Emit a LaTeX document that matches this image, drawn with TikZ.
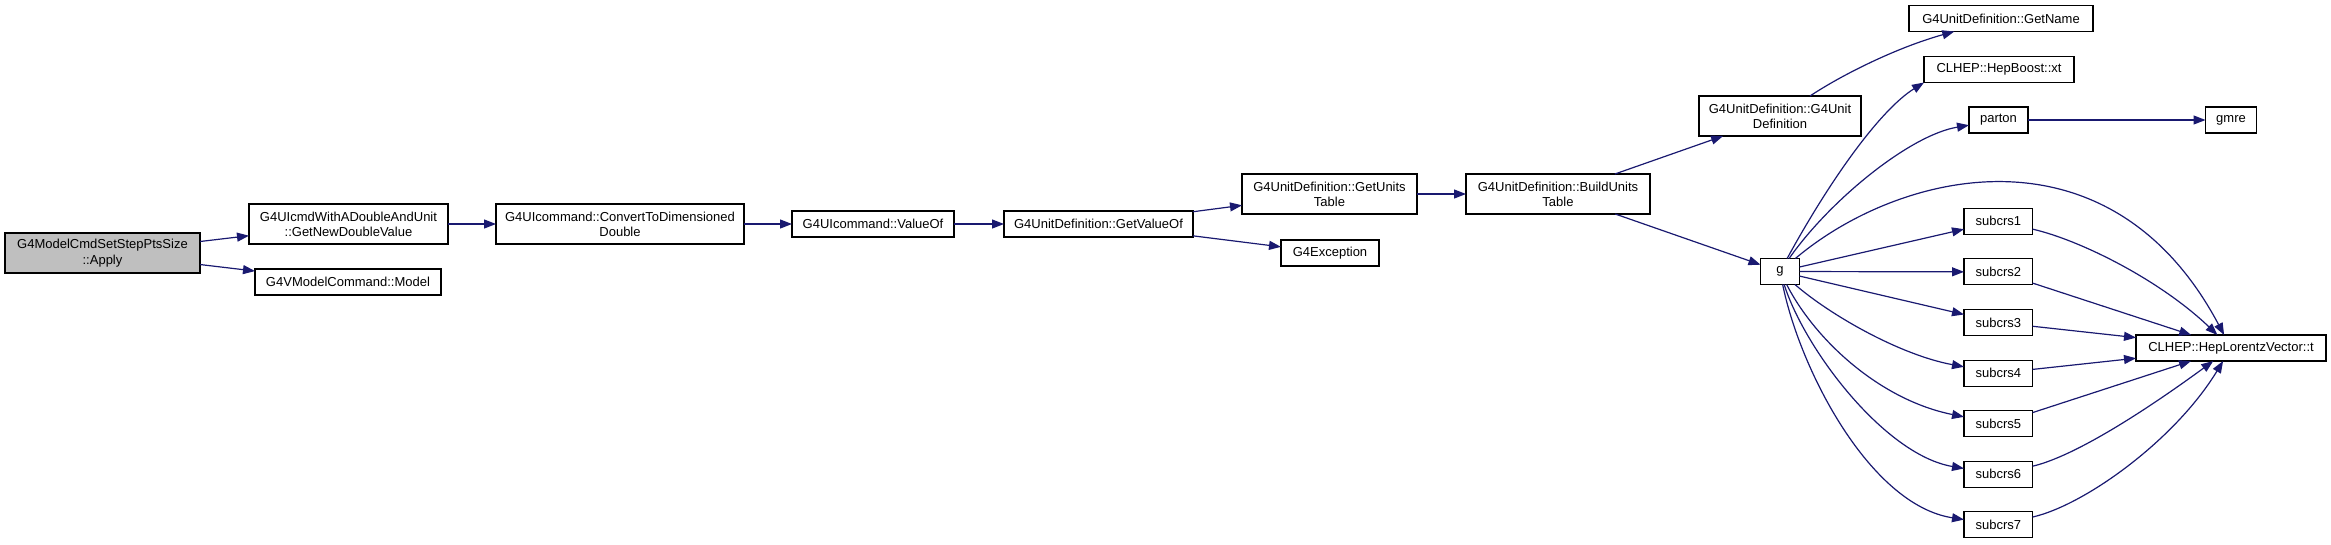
\documentclass[tikz,border=0pt]{standalone}
\usepackage{fontspec}
\setmainfont{Liberation Sans}
\usetikzlibrary{arrows.meta}
\definecolor{edgeblue}{HTML}{191970}
\definecolor{graybox}{HTML}{BFBFBF}

\begin{document}
\begin{tikzpicture}[x=1pt,y=-1pt,inner sep=0pt,outer sep=0pt,
>={Triangle[length=12pt,width=9pt]},
fn/.style={draw=black,line width=1.1pt,rectangle,fill=white,align=center,minimum height=26pt,font=\fontsize{13}{15.3}\selectfont},
fntwo/.style={fn,minimum height=40pt},
call/.style={->,draw=edgeblue,line width=1.2pt}]

\useasboundingbox (0,0) rectangle (2331,544);

\draw (102.5,253) node[fntwo,fill=graybox,minimum width=195pt] (apply) {G4ModelCmdSetStepPtsSize\\::Apply};
\draw (348.5,224) node[fntwo,minimum width=199pt] (getnew) {G4UIcmdWithADoubleAndUnit\\::GetNewDoubleValue};
\draw (348,282) node[fn,minimum width=186pt] (model) {G4VModelCommand::Model};
\draw (620,224) node[fntwo,minimum width=248pt] (convert) {G4UIcommand::ConvertToDimensioned\\Double};
\draw (873,224) node[fn,minimum width=162pt] (valueof) {G4UIcommand::ValueOf};
\draw (1098.5,224) node[fn,minimum width=189pt] (getvalueof) {G4UnitDefinition::GetValueOf};
\draw (1329.5,194) node[fntwo,minimum width=175pt] (unitstable) {G4UnitDefinition::GetUnits\\Table};
\draw (1330,253) node[fn,minimum width=98pt] (exception) {G4Exception};
\draw (1558,194) node[fntwo,minimum width=184pt] (buildtable) {G4UnitDefinition::BuildUnits\\Table};
\draw (1780,116) node[fntwo,minimum width=162pt] (unitdef) {G4UnitDefinition::G4Unit\\Definition};
\draw (2001,18.5) node[fn,minimum width=184pt] (getname) {G4UnitDefinition::GetName};
\draw (1999,69.5) node[fn,minimum width=150pt] (boostxt) {CLHEP::HepBoost::xt};
\draw (1998.5,120) node[fn,minimum width=59pt] (parton) {parton};
\draw (2231,120) node[fn,minimum width=51pt] (gmre) {gmre};
\draw (1780,271.5) node[fn,minimum width=39pt] (g) {g};
\draw (1998.3,221.3) node[fn,minimum width=68.6pt] (subcrs1) {subcrs1};
\draw (1998.3,271.9) node[fn,minimum width=68.6pt] (subcrs2) {subcrs2};
\draw (1998.3,322.5) node[fn,minimum width=68.6pt] (subcrs3) {subcrs3};
\draw (1998.3,373.1) node[fn,minimum width=68.6pt] (subcrs4) {subcrs4};
\draw (1998.3,423.7) node[fn,minimum width=68.6pt] (subcrs5) {subcrs5};
\draw (1998.3,474.3) node[fn,minimum width=68.6pt] (subcrs6) {subcrs6};
\draw (1998.3,524.9) node[fn,minimum width=68.6pt] (subcrs7) {subcrs7};
\draw (2231,348) node[fn,minimum width=190pt] (lvt) {CLHEP::HepLorentzVector::t};

\draw[call] (apply) -- (getnew);
\draw[call] (apply) -- (model);
\draw[call] (getnew) -- (convert);
\draw[call] (convert) -- (valueof);
\draw[call] (valueof) -- (getvalueof);
\draw[call] (getvalueof) -- (unitstable);
\draw[call] (getvalueof) -- (exception);
\draw[call] (unitstable) -- (buildtable);
\draw[call] (buildtable) -- (unitdef);
\draw[call] (buildtable) -- (g);
\draw[call] (unitdef) .. controls (1840,76) and (1895,48) .. (getname);
\draw[call] (g) .. controls (1830,180) and (1880,110) .. (boostxt.south west);
\draw[call] (g) .. controls (1830,200) and (1910,135) .. (parton.190);
\draw[call] (parton) -- (gmre);
\draw[call] (g) .. controls (1900,170) and (2110,120) .. (lvt);
\draw[call] (g) -- (subcrs1);
\draw[call] (g) -- (subcrs2);
\draw[call] (g) -- (subcrs3);
\draw[call] (g) .. controls (1830,315) and (1900,355) .. (subcrs4);
\draw[call] (g) .. controls (1815,340) and (1880,400) .. (subcrs5);
\draw[call] (g) .. controls (1805,350) and (1885,455) .. (subcrs6);
\draw[call] (g) .. controls (1800,370) and (1870,505) .. (subcrs7);
\draw[call] (subcrs1) .. controls (2080,240) and (2160,280) .. (lvt);
\draw[call] (subcrs2) -- (lvt);
\draw[call] (subcrs3) -- (lvt);
\draw[call] (subcrs4) -- (lvt);
\draw[call] (subcrs5) -- (lvt);
\draw[call] (subcrs6) .. controls (2080,455) and (2160,400) .. (lvt);
\draw[call] (subcrs7) .. controls (2085,505) and (2175,440) .. (lvt);

\end{tikzpicture}
\end{document}
